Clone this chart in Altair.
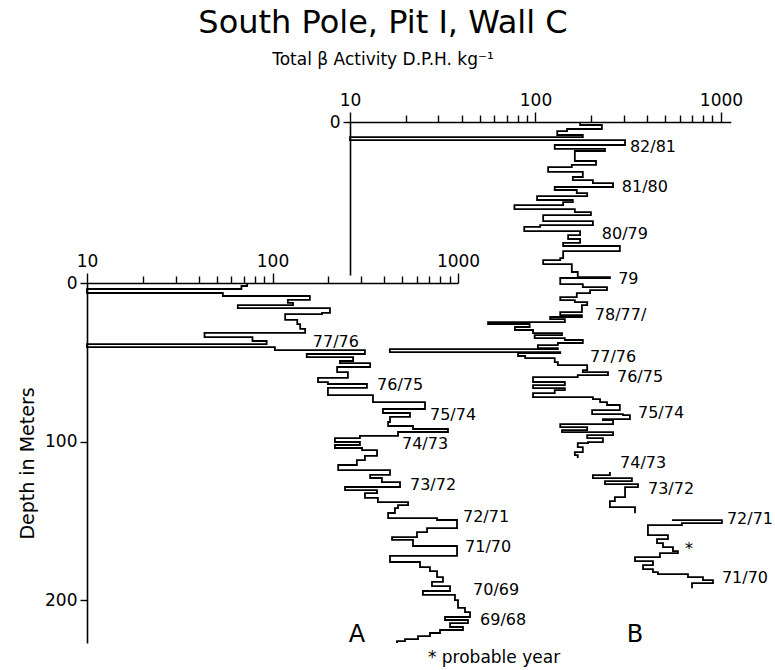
import altair as alt
import pandas as pd

FONT = "DejaVu Sans"

# ---------------- Panel A (depth tops, activity D.P.H./kg) ----------------
a_top = [0, 1.9, 3.8, 6.3, 8.2, 10.7, 12.6, 13.9, 15.8, 18.9, 19.6, 23.3, 25.9, 29.0,
         31.5, 34.1, 36.6, 38.5, 40.4, 42.3, 44.8, 46.7, 49.2, 50.5, 53.0, 56.2, 59.9,
         62.5, 63.7, 66.2, 70.7, 75.1, 79.5, 82.0, 84.5, 87.7, 90.2, 92.1, 94.0, 96.5,
         97.8, 100.3, 102.2, 104.1, 105.4, 109.1, 111.7, 114.8, 118.0, 121.1, 123.0,
         125.6, 128.7, 130.6, 132.5, 135.6, 138.2, 140.1, 142.0, 145.1, 148.3, 149.5,
         154.6, 157.1, 160.3, 162.1, 165.9, 172.2, 176.0, 179.2, 181.7, 185.5, 188.6,
         191.2, 194.3, 196.8, 200.0, 205.0, 207.6, 210.7, 212.6, 214.5, 217.0, 218.9,
         220.8, 222.7, 224.6, 225.9]
a_val = [73, 68, 10, 54, 159, 121, 129, 65, 204, 185, 117, 136, 141, 150,
         43, 78, 93, 10, 103, 315, 153, 272, 231, 336, 223, 255, 176,
         199, 323, 199, 348, 664, 394, 551, 430, 420, 572, 883, 475, 296,
         217, 296, 217, 304, 366, 315, 285, 226, 430, 336, 389,
         487, 246, 366, 315, 370, 538, 475, 457, 420, 771, 988,
         681, 601, 441, 572, 988, 430, 624, 706, 771, 830, 724,
         906, 647, 963, 1000, 1091, 1161, 851, 1132, 906, 1064, 800,
         706, 609, 518, 469]
a_bottom = 227.1

# ---------------- Panel B (three pieces of profile) ----------------
b1_top = [0, 1.9, 4.4, 5.7, 8.2, 9.5, 11.4, 14.5, 17.0, 18.3, 24.6, 27.1, 28.4, 31.5,
          34.7, 36.6, 38.5, 41.0, 42.9, 44.8, 46.7, 49.2, 50.5, 52.4, 54.9, 56.8, 58.7,
          62.5, 65.0, 66.2, 68.8, 71.3, 73.8, 76.3, 78.2, 81.4, 85.8, 87.1, 89.6, 94.6,
          97.8, 98.4, 102.2, 104.1, 106.0, 107.9, 110.4, 112.3, 113.6, 115.5, 119.9,
          121.8, 123.0, 124.3, 126.2, 127.4, 129.3, 131.2, 133.1, 134.4, 136.3, 137.5,
          139.4, 140.7, 142.6, 143.2, 145.1, 145.7, 147.6, 148.9, 151.4, 153.3, 156.5,
          157.7, 159.6, 160.9, 164.0, 165.9, 167.8, 169.1, 171.0, 173.5, 174.8, 176.7,
          178.5, 181.7, 184.2, 184.9, 187.4, 188.0, 190.5, 192.4, 194.3, 195.6, 197.5,
          199.4, 201.9, 202.5, 205.0, 208.2, 210.1]
b1_val = [174, 228, 148, 131, 180, 10, 304, 127, 237, 163, 212, 157, 117, 180,
          159, 204, 262, 127, 167, 190, 102, 159, 141, 77, 163, 199, 110,
          204, 106, 87, 174, 150, 174, 141, 285, 141, 136, 110, 157, 169,
          252, 136, 180, 243, 197, 167, 136, 163, 190, 178, 136,
          178, 120, 144, 55.5, 93, 77.5, 97, 139, 99, 144, 180,
          132, 103, 132, 16.4, 136, 80.5, 88, 127, 132, 190, 180,
          246, 169, 97, 144, 97, 144, 127, 97, 204, 223, 243,
          285, 202, 296, 323, 231, 262, 136, 190, 139, 262, 190,
          231, 192, 169, 180, 163, 169]
b1_bottom = 212.0

b2_top = [220.8, 222.7, 224.6, 226.5, 228.4, 230.3, 236.6, 239.1, 242.9]
b2_val = [252, 204, 331, 237, 357, 304, 268, 252, 344]
b2_bottom = 246.7

b3_top = [251.1, 251.1, 253.0, 254.3, 260.6, 263.1, 265.6, 268.1, 270.7, 271.9,
          274.4, 277.0, 279.5, 282.0, 283.9, 285.2, 287.1, 289.0, 290.9]
b3_val = [544, 1012, 616, 404, 518, 452, 487, 551, 586, 469,
          344, 430, 380, 430, 457, 664, 800, 906, 698]
b3_bottom = 294.0

# ---------------- annotations ----------------
a_lab_text = ["77/76", "76/75", "75/74", "74/73", "73/72", "72/71", "71/70", "70/69", "69/68"]
a_lab_val = [165, 366, 706, 499, 551, 1064, 1092, 1205, 1315]
a_lab_depth = [37.2, 64.4, 83.3, 101.6, 127.4, 147.6, 166.6, 193.7, 212.6]

b_lab_text = ["82/81", "81/80", "80/79", "79", "78/77/", "77/76", "76/75", "75/74",
              "74/73", "73/72", "72/71", "*", "71/70"]
b_lab_val = [323, 292, 228, 279, 209, 197, 275, 357, 286, 404, 1077, 640, 1012]
b_lab_depth = [15.8, 41.0, 70.7, 99.1, 121.8, 148.3, 160.9, 183.6, 215.1, 231.5,
               250.5, 269.4, 287.7]

ticks_log = [10, 20, 30, 40, 50, 60, 70, 80, 90, 100, 200, 300, 400, 500, 600, 700,
             800, 900, 1000]


def profile(tops, vals, bottom, seg):
    rows = [{"depth": t, "value": v, "seg": seg, "i": k}
            for k, (t, v) in enumerate(zip(tops, vals))]
    rows.append({"depth": bottom, "value": vals[-1], "seg": seg, "i": len(tops)})
    return rows


dfA = pd.DataFrame(profile(a_top, a_val, a_bottom, "A"))
dfB = pd.DataFrame(profile(b1_top, b1_val, b1_bottom, "B1")
                   + profile(b2_top, b2_val, b2_bottom, "B2")
                   + profile(b3_top, b3_val, b3_bottom, "B3"))

labA = pd.DataFrame({"value": a_lab_val, "depth": a_lab_depth, "label": a_lab_text})
labB = pd.DataFrame({"value": b_lab_val, "depth": b_lab_depth, "label": b_lab_text})
panelA = pd.DataFrame({"value": [285], "depth": [222.0], "label": ["A"]})
panelB = pd.DataFrame({"value": [344], "depth": [323.7], "label": ["B"]})
noteB = pd.DataFrame({"value": [26.3], "depth": [338.2], "label": ["* probable year"]})

major_test = "datum.value == 10 || datum.value == 100 || datum.value == 1000"


def xaxis(offset):
    return alt.Axis(orient="top", offset=offset, values=ticks_log, format="d",
                    labelExpr="(" + major_test + ") ? datum.label : ''",
                    tickSize={"condition": {"test": major_test, "value": 10}, "value": 7},
                    grid=False, title=None, labelFont=FONT, labelFontSize=17,
                    labelColor="black", labelPadding=3, domainColor="black",
                    domainWidth=1.6, tickColor="black", tickWidth=1.4,
                    labelFlush=False, labelOverlap=False)


# scales
xA = alt.Scale(type="log", domain=[10, 1000], range=[0, 371], nice=False)
yA = alt.Scale(domain=[0, 227.1], range=[161, 521], nice=False, zero=False)
xB = alt.Scale(type="log", domain=[10, 1130], range=[263, 643.8], nice=False)
yB = alt.Scale(domain=[0, 96.5], range=[0, 153], nice=False, zero=False)

axAy = alt.Axis(orient="left", values=[0, 100, 200], grid=False, title="Depth in Meters",
                titleFont=FONT, titleFontSize=19, titleFontWeight="normal",
                titleColor="black", titlePadding=7, labelFont=FONT, labelFontSize=17,
                labelColor="black", labelPadding=3, tickSize=7, tickColor="black",
                tickWidth=1.4, domainColor="black", domainWidth=1.6, labelFlush=False)
axBy = alt.Axis(orient="left", offset=-263, values=[0], grid=False, title=None,
                labelFont=FONT, labelFontSize=17, labelColor="black", labelPadding=3,
                tickSize=7, tickColor="black", tickWidth=1.4, domainColor="black",
                domainWidth=1.6, labelFlush=False)

encA = dict(x=alt.X("value:Q", scale=xA, axis=xaxis(-161)),
            y=alt.Y("depth:Q", scale=yA, axis=axAy))
encB = dict(x=alt.X("value:Q", scale=xB, axis=xaxis(0)),
            y=alt.Y("depth:Q", scale=yB, axis=axBy))

lineA = alt.Chart(dfA).mark_line(interpolate="step-before", color="black",
                                 strokeWidth=1.8).encode(
    order=alt.Order("i:Q"), detail="seg:N", **encA)
textA = alt.Chart(labA).mark_text(align="left", baseline="middle", font=FONT,
                                  fontSize=16, color="black").encode(text="label:N", **encA)
bigA = alt.Chart(panelA).mark_text(align="center", baseline="middle", font=FONT,
                                   fontSize=24, color="black").encode(text="label:N", **encA)

lineB = alt.Chart(dfB).mark_line(interpolate="step-before", color="black",
                                 strokeWidth=1.8).encode(
    order=alt.Order("i:Q"), detail="seg:N", **encB)
textB = alt.Chart(labB).mark_text(align="left", baseline="middle", font=FONT,
                                  fontSize=16, color="black").encode(text="label:N", **encB)
bigB = alt.Chart(panelB).mark_text(align="center", baseline="middle", font=FONT,
                                   fontSize=24, color="black").encode(text="label:N", **encB)
note = alt.Chart(noteB).mark_text(align="left", baseline="middle", font=FONT,
                                  fontSize=17, color="black").encode(text="label:N", **encB)

layerA = alt.layer(lineA, textA, bigA)
layerB = alt.layer(lineB, textB, bigB, note)

chart = alt.layer(layerA, layerB).resolve_scale(
    x="independent", y="independent"
).resolve_axis(x="independent", y="independent").properties(
    width=648, height=521,
    autosize=alt.AutoSizeParams(type="none"),
    padding={"left": 87, "top": 122, "right": 40, "bottom": 27},
    background="white",
    title=alt.TitleParams(
        text="South Pole, Pit I, Wall C",
        subtitle="Total β Activity D.P.H. kg⁻¹",
        font=FONT, fontSize=32, fontWeight="normal", color="black",
        subtitleFont=FONT, subtitleFontSize=17, subtitleColor="black",
        subtitlePadding=12, anchor="middle", frame="group", dx=-28, offset=22,
    ),
).configure_view(stroke=None)

chart.save("out.html", embed_options={"renderer": "svg", "actions": False})
